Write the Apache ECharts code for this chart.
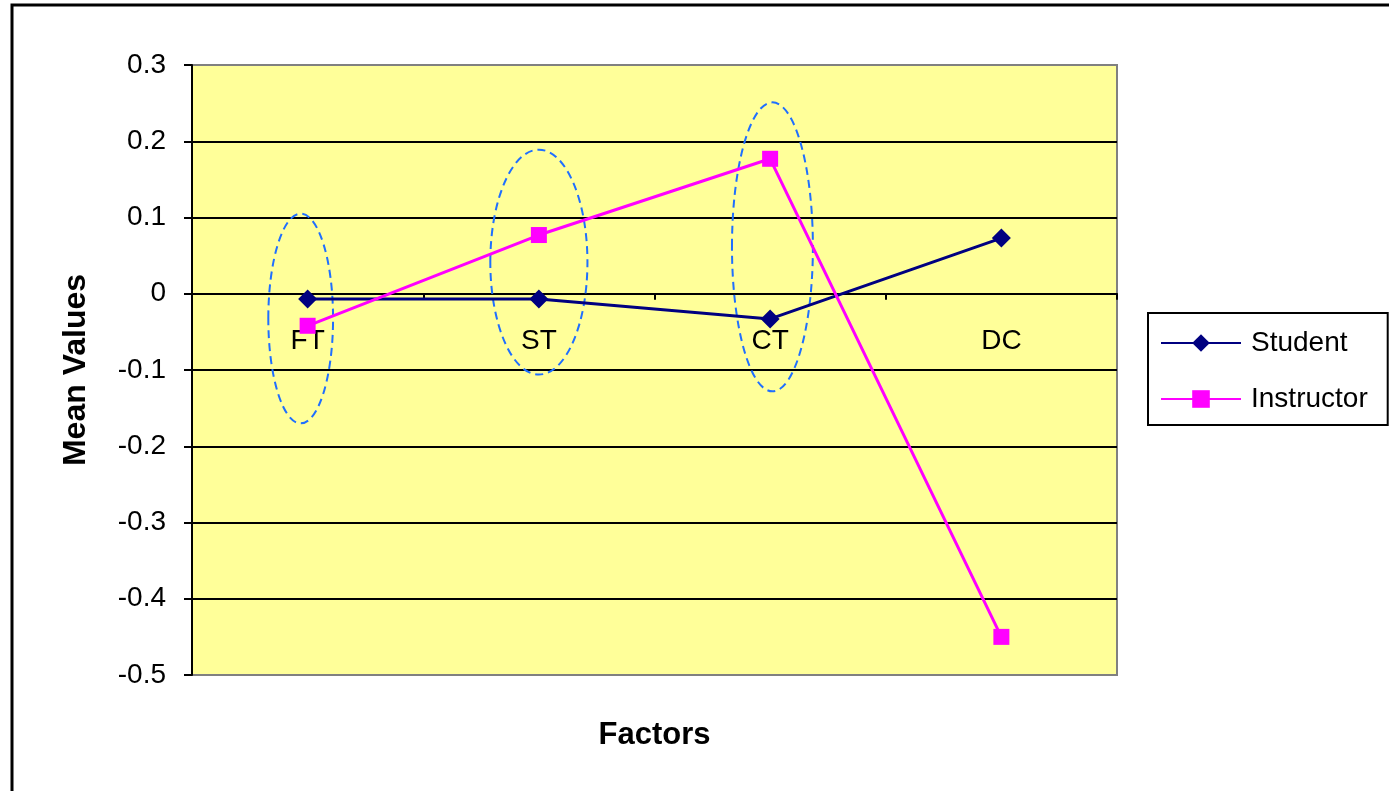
<!DOCTYPE html>
<html>
<head>
<meta charset="utf-8">
<script src="https://cdn.jsdelivr.net/npm/echarts@6/dist/echarts.min.js"></script>
<style>html,body{margin:0;padding:0;background:#fff;}#c{width:1389px;height:791px;}</style>
</head>
<body>
<div id="c"></div>
<script>
const categories = ['FT', 'ST', 'CT', 'DC'];
const studentValues = [-0.007, -0.007, -0.033, 0.073];
const instructorValues = [-0.042, 0.077, 0.177, -0.45];
const yTicks = { min: -0.5, max: 0.3, interval: 0.1 };
// highlighted groups: [category, y top, y bottom, x offset (category units), half width (category units)]
const ellipseGroups = [
  ['FT', 0.105, -0.170, -0.03, 0.14],
  ['ST', 0.189, -0.106, 0.00, 0.21],
  ['CT', 0.251, -0.128, 0.01, 0.175]
];

const FONT = 'Liberation Sans, Arial, sans-serif';
const chart = echarts.init(document.getElementById('c'));
const option = {
  animation: false,
  backgroundColor: '#ffffff',
  grid: {
    left: 192, right: 272, top: 65, bottom: 116,
    containLabel: false, outerBoundsMode: 'none',
    show: true, backgroundColor: '#ffff99', borderColor: '#808080', borderWidth: 2
  },
  legend: {
    orient: 'vertical', left: 1148, top: 313,
    padding: [16, 20, 12, 12], itemGap: 28,
    itemWidth: 80, itemHeight: 22,
    borderColor: '#000', borderWidth: 2,
    textStyle: { fontFamily: FONT, fontSize: 28, color: '#000', padding: [0, 0, 0, 5] },
    data: ['Student', 'Instructor']
  },
  xAxis: {
    type: 'category', data: categories, boundaryGap: true,
    name: 'Factors', nameLocation: 'middle', nameGap: 426,
    nameTextStyle: { fontFamily: FONT, fontSize: 31, fontWeight: 'bold', color: '#000' },
    axisLine: { onZero: false, lineStyle: { color: '#000', width: 2 } },
    axisTick: { show: true, alignWithLabel: false, length: 6, lineStyle: { color: '#000', width: 2 } },
    axisLabel: { fontFamily: FONT, fontSize: 28, color: '#000', margin: 34 },
    splitLine: { show: false }
  },
  yAxis: {
    type: 'value', min: yTicks.min, max: yTicks.max, interval: yTicks.interval,
    name: 'Mean Values', nameLocation: 'middle', nameGap: 100, nameRotate: 90,
    nameTextStyle: { fontFamily: FONT, fontSize: 32, fontWeight: 'bold', color: '#000' },
    axisLine: { show: true, onZero: false, lineStyle: { color: '#000', width: 2 } },
    axisTick: { show: true, length: 8, inside: false, lineStyle: { color: '#000', width: 2 } },
    axisLabel: {
      fontFamily: FONT, fontSize: 28, color: '#000', margin: 26,
      formatter: v => String(Math.round(v * 10) / 10)
    },
    splitLine: {
      show: true,
      lineStyle: {
        color: ['#808080', '#000', '#000', '#000', '#000', '#000', '#000', '#000', '#808080'],
        width: 2
      }
    }
  },
  series: [
    {
      name: 'Student', type: 'line', data: studentValues,
      symbol: 'diamond', symbolSize: 19,
      itemStyle: { color: '#000080' },
      lineStyle: { color: '#000080', width: 3 },
      z: 3
    },
    {
      name: 'Instructor', type: 'line', data: instructorValues,
      symbol: 'rect', symbolSize: 16,
      itemStyle: { color: '#ff00ff' },
      lineStyle: { color: '#ff00ff', width: 3 },
      z: 4
    }
  ]
};
chart.setOption(option);

function placeAxisAndDecor() {
  // move the category axis (line, ticks, labels, name) onto the zero line
  const zeroY = chart.convertToPixel({ yAxisIndex: 0 }, 0);
  const bottomY = chart.convertToPixel({ yAxisIndex: 0 }, yTicks.min);
  chart.setOption({ xAxis: { offset: zeroY - bottomY } });

  const p0 = chart.convertToPixel({ xAxisIndex: 0 }, categories[0]);
  const p1 = chart.convertToPixel({ xAxisIndex: 0 }, categories[1]);
  const bw = p1 - p0;
  const elements = ellipseGroups.map(g => {
    const cxBase = chart.convertToPixel({ xAxisIndex: 0 }, g[0]);
    const yTop = chart.convertToPixel({ yAxisIndex: 0 }, g[1]);
    const yBot = chart.convertToPixel({ yAxisIndex: 0 }, g[2]);
    return {
      type: 'ellipse',
      shape: { cx: cxBase + g[3] * bw, cy: (yTop + yBot) / 2, rx: g[4] * bw, ry: (yBot - yTop) / 2 },
      style: { fill: null, stroke: '#1f6fff', lineWidth: 2, lineDash: [8, 5] },
      z: 2
    };
  });
  elements.push({
    type: 'rect', shape: { x: 12, y: 5, width: 1500, height: 900 },
    style: { fill: null, stroke: '#000', lineWidth: 3 }, z: 10, silent: true
  });
  chart.setOption({ graphic: { elements: elements } });
}
placeAxisAndDecor();
</script>
</body>
</html>
